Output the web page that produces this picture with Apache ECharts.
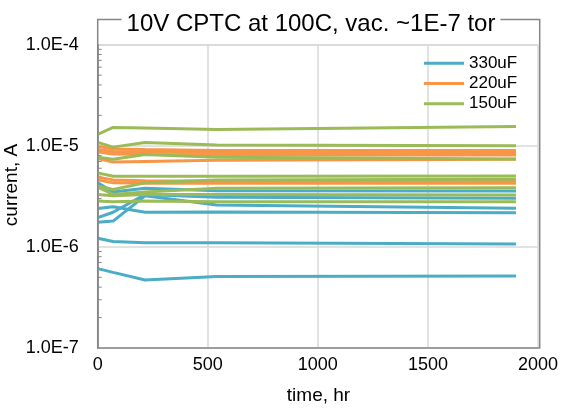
<!DOCTYPE html>
<html>
<head>
<meta charset="utf-8">
<script src="https://cdn.jsdelivr.net/npm/echarts@6/dist/echarts.min.js"></script>
<style>
html,body{margin:0;padding:0;background:#fff;}
#c{width:561px;height:410px;}
</style>
</head>
<body>
<div id="c"></div>
<script>
// time points (hr)
const times = [0, 70, 215, 540, 1900];

// 330uF (blue)
const c330_1 = [4.3e-6, 3.5e-6, 3.8e-6, 3.6e-6, 3.57e-6];
const c330_2 = [2.4e-6, 2.5e-6, 2.2e-6, 2.22e-6, 2.18e-6];
const c330_3 = [1.95e-6, 2.2e-6, 3.3e-6, 3.1e-6, 3.03e-6];
const c330_4 = [1.75e-6, 1.8e-6, 3.2e-6, 2.6e-6, 2.41e-6];
const c330_5 = [1.22e-6, 1.13e-6, 1.1e-6, 1.1e-6, 1.07e-6];
const c330_6 = [6.1e-7, 5.6e-7, 4.7e-7, 5.1e-7, 5.15e-7];

// 220uF (orange)
const c220_1 = [9.9e-6, 9.3e-6, 9.2e-6, 9.0e-6, 9.0e-6];
const c220_2 = [9.2e-6, 8.8e-6, 8.7e-6, 8.6e-6, 8.6e-6];
const c220_3 = [8.7e-6, 8.3e-6, 8.2e-6, 8.1e-6, 8.1e-6];
const c220_4 = [7.5e-6, 6.9e-6, 7.0e-6, 7.2e-6, 7.35e-6];
const c220_5 = [4.9e-6, 4.6e-6, 4.5e-6, 4.45e-6, 4.45e-6];
const c220_6 = [4.6e-6, 4.3e-6, 4.25e-6, 4.25e-6, 4.25e-6];

// 150uF (green)
const c150_1 = [1.3e-5, 1.52e-5, 1.5e-5, 1.45e-5, 1.55e-5];
const c150_2 = [1.08e-5, 9.7e-6, 1.08e-5, 1.02e-5, 1.0e-5];
const c150_3 = [7.7e-6, 7.35e-6, 8.2e-6, 7.7e-6, 7.4e-6];
const c150_4 = [5.4e-6, 5.0e-6, 5.0e-6, 5.0e-6, 5.03e-6];
const c150_5 = [4.0e-6, 3.7e-6, 4.3e-6, 4.6e-6, 4.66e-6];
const c150_6 = [3.9e-6, 3.3e-6, 3.5e-6, 3.8e-6, 3.85e-6];
const c150_7 = [3.3e-6, 3.2e-6, 3.3e-6, 3.3e-6, 3.26e-6];
const c150_8 = [2.85e-6, 2.8e-6, 2.85e-6, 2.8e-6, 2.8e-6];

const legendNames = ['330uF', '220uF', '150uF'];
const xTickLabels = ['0', '500', '1000', '1500', '2000'];
const minorTickValues = [2e-7,3e-7,4e-7,5e-7,6e-7,7e-7,8e-7,9e-7,
  2e-6,3e-6,4e-6,5e-6,6e-6,7e-6,8e-6,9e-6,
  2e-5,3e-5,4e-5,5e-5,6e-5,7e-5,8e-5,9e-5];

const groups = [
  {name: legendNames[0], color: '#4BACC6', data: [c330_1,c330_2,c330_3,c330_4,c330_5,c330_6]},
  {name: legendNames[1], color: '#F79646', data: [c220_1,c220_2,c220_3,c220_4,c220_5,c220_6]},
  {name: legendNames[2], color: '#9BBB59', data: [c150_1,c150_2,c150_3,c150_4,c150_5,c150_6,c150_7,c150_8]}
];

const FONT = 'Liberation Sans, Arial, sans-serif';
const series = [];
groups.forEach(g => {
  g.data.forEach(arr => {
    series.push({
      name: g.name,
      type: 'line',
      symbol: 'none',
      color: g.color,
      lineStyle: {width: 3, color: g.color},
      data: arr.map((v, i) => [times[i], v]),
      animation: false
    });
  });
});
series.push({
  type: 'custom',
  silent: true,
  animation: false,
  data: minorTickValues.map(v => [0, v]),
  renderItem: function (params, api) {
    const p = api.coord([0, api.value(1)]);
    return {type: 'line', shape: {x1: p[0], y1: p[1], x2: p[0] + 4, y2: p[1]},
      style: {stroke: '#868686', lineWidth: 1}};
  }
});

const chart = echarts.init(document.getElementById('c'), null, {renderer: 'canvas'});
chart.setOption({
  animation: false,
  backgroundColor: '#fff',
  grid: {left: 97.7, right: 21, top: 44.7, bottom: 62, containLabel: false},
  legend: {
    data: legendNames,
    orient: 'vertical',
    left: 424, top: 53,
    icon: 'rect', itemWidth: 40, itemHeight: 3, itemGap: 0, padding: 0,
    textStyle: {fontSize: 17, lineHeight: 20.3, color: '#000', fontFamily: FONT}
  },
  xAxis: {
    type: 'value', min: 0, max: 2000, interval: 500,
    axisLine: {show: false}, axisTick: {show: false},
    axisLabel: {fontSize: 18, color: '#000', fontFamily: FONT, margin: 8,
      formatter: v => xTickLabels[Math.round(v / 500)]},
    splitLine: {show: true, lineStyle: {color: '#D9D9D9', width: 1.5}}
  },
  yAxis: {
    type: 'log', logBase: 10, min: 1e-7, max: 1e-4,
    axisLine: {show: true, lineStyle: {color: '#868686', width: 1.5}},
    axisTick: {show: false},
    axisLabel: {fontSize: 18, color: '#000', fontFamily: FONT, margin: 19,
      formatter: v => Number(v).toExponential(1).replace('e', 'E').replace('+', '')},
    splitLine: {show: true, lineStyle: {color: '#D9D9D9', width: 1.5}}
  },
  graphic: [
    {type: 'rect', z: 100, silent: true,
      shape: {x: 97.7, y: 19.5, width: 442, height: 328.5},
      style: {fill: null, stroke: '#868686', lineWidth: 1.5}},
    {type: 'text', z: 101, silent: true, x: 311, y: 24,
      style: {text: '10V CPTC at 100C, vac. ~1E-7 tor', fontSize: 24, fontFamily: FONT,
        fill: '#000', align: 'center', verticalAlign: 'middle',
        backgroundColor: '#fff', padding: [0, 5]}},
    {type: 'text', silent: true, x: 318.5, y: 396,
      style: {text: 'time, hr', fontSize: 19, fontFamily: FONT, fill: '#000',
        align: 'center', verticalAlign: 'middle'}},
    {type: 'text', silent: true, x: 12, y: 185, rotation: Math.PI / 2,
      style: {text: 'current, A', fontSize: 19, fontFamily: FONT, fill: '#000',
        align: 'center', verticalAlign: 'middle'}}
  ],
  series: series
});
</script>
</body>
</html>
